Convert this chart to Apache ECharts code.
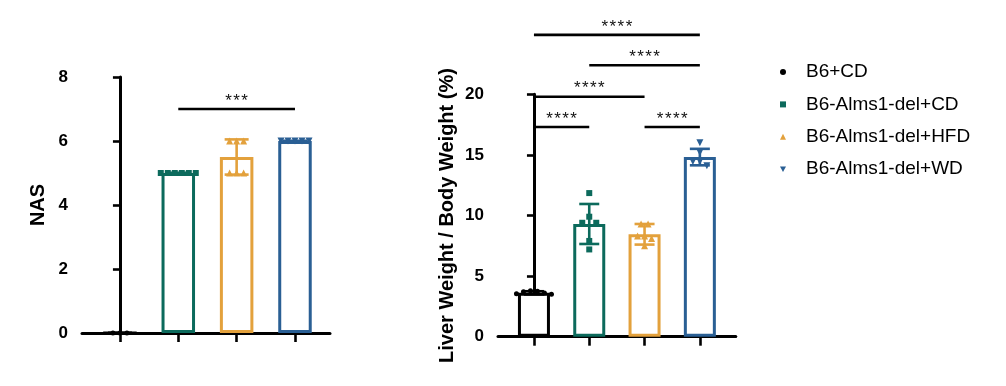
<!DOCTYPE html>
<html>
<head>
<meta charset="utf-8">
<script src="https://cdn.jsdelivr.net/npm/echarts@6/dist/echarts.min.js"></script>
<style>
html,body{margin:0;padding:0;background:#fff;}
#c{width:1006px;height:386px;}
</style>
</head>
<body>
<div id="c"></div>
<script>
// ---------- data ----------
const groups = ['B6+CD', 'B6-Alms1-del+CD', 'B6-Alms1-del+HFD', 'B6-Alms1-del+WD'];
const groupColors = ['#000000', '#0c6a5c', '#e3a13c', '#2a5f94'];
const groupSymbols = ['circle', 'rect', 'triangle', 'triangle'];
const groupSymbolRotate = [0, 0, 0, 180];
const groupSymbolSize = [5, 6, 7, 7];
const legendIcons = ['circle', 'rect', 'triangle', 'path://M0,0L10,0L5,9Z'];

// Left panel: NAS
const nasMean = [0, 5, 5.5, 6];
const nasSD = [0, 0, 0.55, 0];
const nasPoints = [
  [0, 0, 0],
  [5, 5, 5, 5, 5, 5],
  [6, 6, 6, 5, 5, 5],
  [6, 6, 6, 6, 6]
];
const nasTicks = [0, 2, 4, 6, 8];
const nasSig = [[1, 3, 7.0, '***']];

// Right panel: Liver weight / body weight (%)
const lwMean = [3.62, 9.3, 8.45, 14.82];
const lwSD = [0.13, 1.65, 0.85, 0.68];
const lwPoints = [
  [3.8, 3.7, 3.55, 3.5, 3.6, 3.75],
  [11.85, 9.9, 9.4, 9.4, 7.9, 7.2],
  [9.3, 9.3, 8.3, 8.3, 8.1, 7.5],
  [16.0, 15.2, 14.45, 14.45, 14.1]
];
const lwTicks = [0, 5, 10, 15, 20];
const lwSig = [
  [0, 3, 24.9, '****'],
  [1, 3, 22.4, '****'],
  [0, 2, 19.8, '****'],
  [0, 1, 17.3, '****'],
  [2, 3, 17.3, '****']
];

// ---------- chart ----------
const FONT = '"Liberation Sans", Arial, sans-serif';
const chart = echarts.init(document.getElementById('c'), null, {renderer: 'canvas'});

const panels = [
  {grid: {left: 82, top: 77, width: 248, height: 256}, xmax: 3.6, ymax: 8, yint: 2,
   name: 'NAS', nameGap: 34, mean: nasMean, sd: nasSD, pts: nasPoints, sig: nasSig,
   barW: 33.5, cap: 12},
  {grid: {left: 498, top: 94.3, width: 237.8, height: 242.4}, xmax: 3.65, ymax: 20, yint: 5,
   name: 'Liver Weight / Body Weight (%)', nameGap: 41, mean: lwMean, sd: lwSD, pts: lwPoints, sig: lwSig,
   barW: 32, cap: 10}
];

function spaced(s) { return s.split('').join('\u200A'); }

function buildOption(pointOffsets) {
  const grid = [], xAxis = [], yAxis = [], series = [];
  panels.forEach((p, pi) => {
    grid.push(Object.assign({}, p.grid));
    xAxis.push({
      type: 'value', gridIndex: pi, min: -0.65, max: p.xmax,
      axisLine: {show: true, onZero: false, lineStyle: {color: '#000', width: 3}},
      axisTick: {show: true, customValues: [0, 1, 2, 3], length: 9, lineStyle: {color: '#000', width: 2.6}},
      axisLabel: {show: false},
      splitLine: {show: false}
    });
    yAxis.push({
      type: 'value', gridIndex: pi, min: 0, max: p.ymax, interval: p.yint,
      name: p.name, nameLocation: 'middle', nameGap: p.nameGap, nameRotate: 90,
      nameTextStyle: {fontFamily: FONT, fontWeight: 'bold', fontSize: 20, color: '#000'},
      axisLine: {show: true, lineStyle: {color: '#000', width: 3}},
      axisTick: {show: true, length: 7, lineStyle: {color: '#000', width: 2.6}},
      axisLabel: {fontFamily: FONT, fontWeight: 'bold', fontSize: 17, color: '#000', margin: 14},
      splitLine: {show: false}
    });
    // hollow bars
    series.push({
      type: 'bar', xAxisIndex: pi, yAxisIndex: pi, barWidth: p.barW, z: 2,
      data: p.mean.map((m, i) => ({value: [i, m], itemStyle: {color: '#fff', borderColor: groupColors[i], borderWidth: 3}})),
      silent: true
    });
    // error bars
    series.push({
      type: 'custom', xAxisIndex: pi, yAxisIndex: pi, z: 4, clip: false, silent: true,
      data: p.mean.map((m, i) => [i, m, p.sd[i]]),
      renderItem: function (params, api) {
        const x = api.value(0), m = api.value(1), s = api.value(2);
        const top = api.coord([x, m + s]);
        const bot = api.coord([x, m - s]);
        const col = groupColors[params.dataIndex];
        const st = {stroke: col, lineWidth: 2.6};
        return {type: 'group', children: [
          {type: 'line', shape: {x1: top[0], y1: top[1], x2: bot[0], y2: bot[1]}, style: st},
          {type: 'line', shape: {x1: top[0] - p.cap, y1: top[1], x2: top[0] + p.cap, y2: top[1]}, style: st},
          {type: 'line', shape: {x1: bot[0] - p.cap, y1: bot[1], x2: bot[0] + p.cap, y2: bot[1]}, style: st}
        ]};
      }
    });
    // points
    groups.forEach((g, gi) => {
      series.push({
        type: 'scatter', name: g, xAxisIndex: pi, yAxisIndex: pi, z: 5,
        symbol: groupSymbols[gi], symbolRotate: groupSymbolRotate[gi], symbolSize: groupSymbolSize[gi],
        itemStyle: {color: groupColors[gi], opacity: 1},
        data: p.pts[gi].map((v, k) => [gi + (pointOffsets ? pointOffsets[pi][gi][k] : 0), v]),
        silent: true
      });
    });
    // significance brackets
    series.push({
      type: 'custom', xAxisIndex: pi, yAxisIndex: pi, z: 6, clip: false, silent: true,
      data: p.sig.map(s => [s[0], s[1], s[2]]),
      renderItem: function (params, api) {
        const a = api.coord([api.value(0), api.value(2)]);
        const b = api.coord([api.value(1), api.value(2)]);
        const txt = spaced(p.sig[params.dataIndex][3]);
        return {type: 'group', children: [
          {type: 'line', shape: {x1: a[0], y1: a[1], x2: b[0], y2: b[1]}, style: {stroke: '#000', lineWidth: 2.6}},
          {type: 'text', x: (a[0] + b[0]) / 2, y: a[1] - 8,
           style: {text: txt, fill: '#111', fontSize: 17, fontFamily: FONT, align: 'center', verticalAlign: 'middle'}}
        ]};
      }
    });
  });
  return {
    backgroundColor: '#fff',
    animation: false,
    grid: grid, xAxis: xAxis, yAxis: yAxis, series: series,
    legend: {
      orient: 'vertical', left: 775, top: 57, itemWidth: 6, itemHeight: 6, itemGap: 12.4,
      selectedMode: false,
      data: groups.map((g, i) => ({name: g, icon: legendIcons[i], itemStyle: {color: groupColors[i]}})),
      textStyle: {fontFamily: FONT, fontSize: 19, color: '#000', lineHeight: 20, padding: [0, 0, 0, 15]}
    }
  };
}

chart.setOption(buildOption(null));

// beeswarm-like horizontal spreading of points (in pixel space), then convert back to data units
const D = 7;
const offsets = panels.map((p, pi) => {
  const finder = {xAxisIndex: pi, yAxisIndex: pi};
  const pxPerX = chart.convertToPixel(finder, [1, 0])[0] - chart.convertToPixel(finder, [0, 0])[0];
  return p.pts.map((vals, gi) => {
    const py = vals.map(v => chart.convertToPixel(finder, [gi, v])[1]);
    const order = vals.map((v, i) => i).sort((a, b) => vals[b] - vals[a]);
    const res = new Array(vals.length).fill(0);
    let i = 0;
    while (i < order.length) {
      const grp = [order[i]];
      let j = i + 1;
      while (j < order.length && Math.abs(py[order[j]] - py[order[i]]) < D) { grp.push(order[j]); j++; }
      const n = grp.length;
      const offs = [];
      for (let k = 0; k < n; k++) offs.push((k - (n - 1) / 2) * D);
      offs.sort((a, b) => Math.abs(a) - Math.abs(b) || a - b);
      grp.forEach((idx, k) => { res[idx] = offs[k] / pxPerX; });
      i = j;
    }
    return res;
  });
});
chart.setOption(buildOption(offsets), true);
</script>
</body>
</html>
